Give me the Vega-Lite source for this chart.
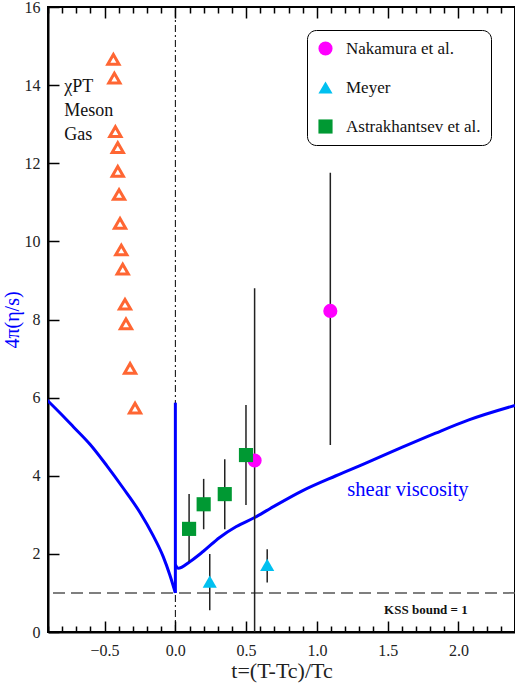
{
  "$schema": "https://vega.github.io/schema/vega-lite/v6.json",
  "width": 467,
  "height": 625,
  "autosize": {"type": "none"},
  "padding": {"left": 48, "top": 7, "right": 0, "bottom": 59},
  "background": "white",
  "config": {
    "view": {"stroke": "black", "strokeWidth": 2},
    "font": "Liberation Serif",
    "text": {"font": "Liberation Serif"},
    "legend": {"labelFont": "Liberation Serif"},
    "axis": {
      "labelFont": "Liberation Serif",
      "titleFont": "Liberation Serif",
      "labelFontSize": 16,
      "labelColor": "#222",
      "domainColor": "black",
      "domainWidth": 2,
      "tickColor": "black",
      "tickWidth": 1.5,
      "grid": false
    }
  },
  "datasets": {
    "curve": [
      {"seg": "left", "t": -0.907, "v": 5.94, "o": 1},
      {"seg": "left", "t": -0.813, "v": 5.6, "o": 2},
      {"seg": "left", "t": -0.72, "v": 5.25, "o": 3},
      {"seg": "left", "t": -0.602, "v": 4.8, "o": 4},
      {"seg": "left", "t": -0.485, "v": 4.26, "o": 5},
      {"seg": "left", "t": -0.368, "v": 3.68, "o": 6},
      {"seg": "left", "t": -0.25, "v": 3.06, "o": 7},
      {"seg": "left", "t": -0.156, "v": 2.46, "o": 8},
      {"seg": "left", "t": -0.086, "v": 1.93, "o": 9},
      {"seg": "left", "t": -0.039, "v": 1.46, "o": 10},
      {"seg": "left", "t": 0.0, "v": 1.0, "o": 11},
      {"seg": "spike", "t": 0.0, "v": 1.0, "o": 12},
      {"seg": "spike", "t": 0.0, "v": 5.87, "o": 13},
      {"seg": "right", "t": 0.0, "v": 1.72, "o": 14},
      {"seg": "right", "t": 0.02, "v": 1.63, "o": 15},
      {"seg": "right", "t": 0.102, "v": 1.8, "o": 16},
      {"seg": "right", "t": 0.196, "v": 2.06, "o": 17},
      {"seg": "right", "t": 0.313, "v": 2.42, "o": 18},
      {"seg": "right", "t": 0.431, "v": 2.7, "o": 19},
      {"seg": "right", "t": 0.56, "v": 2.93, "o": 20},
      {"seg": "right", "t": 0.665, "v": 3.15, "o": 21},
      {"seg": "right", "t": 0.9, "v": 3.62, "o": 22},
      {"seg": "right", "t": 1.135, "v": 4.0, "o": 23},
      {"seg": "right", "t": 1.37, "v": 4.36, "o": 24},
      {"seg": "right", "t": 1.604, "v": 4.73, "o": 25},
      {"seg": "right", "t": 1.839, "v": 5.09, "o": 26},
      {"seg": "right", "t": 2.074, "v": 5.43, "o": 27},
      {"seg": "right", "t": 2.4, "v": 5.8, "o": 28}
    ],
    "chpt": [
      {"t": -0.438, "v": 14.66},
      {"t": -0.431, "v": 14.18},
      {"t": -0.424, "v": 12.81},
      {"t": -0.407, "v": 12.4},
      {"t": -0.407, "v": 11.79},
      {"t": -0.398, "v": 11.2},
      {"t": -0.391, "v": 10.46},
      {"t": -0.382, "v": 9.78},
      {"t": -0.372, "v": 9.29},
      {"t": -0.356, "v": 8.39},
      {"t": -0.349, "v": 7.89},
      {"t": -0.32, "v": 6.75},
      {"t": -0.285, "v": 5.73}
    ],
    "lattice": [
      {"series": "Nakamura et al.", "t": 0.56, "v": 4.39, "lo": 0.0, "hi": 8.8},
      {"series": "Nakamura et al.", "t": 1.095, "v": 8.22, "lo": 4.79, "hi": 11.76},
      {"series": "Meyer", "t": 0.243, "v": 1.29, "lo": 0.56, "hi": 2.0},
      {"series": "Meyer", "t": 0.649, "v": 1.72, "lo": 1.27, "hi": 2.12},
      {"series": "Astrakhantsev et al.", "t": 0.097, "v": 2.64, "lo": 1.8, "hi": 3.53},
      {"series": "Astrakhantsev et al.", "t": 0.2, "v": 3.27, "lo": 2.63, "hi": 3.92},
      {"series": "Astrakhantsev et al.", "t": 0.349, "v": 3.53, "lo": 2.63, "hi": 4.42},
      {"series": "Astrakhantsev et al.", "t": 0.499, "v": 4.53, "lo": 3.25, "hi": 5.81}
    ],
    "labels": [
      {"t": -0.785, "v": 13.95, "txt": "χPT"},
      {"t": -0.785, "v": 13.33, "txt": "Meson"},
      {"t": -0.785, "v": 12.72, "txt": "Gas"}
    ]
  },
  "layer": [
    {
      "data": {"values": [{"v": 1}]},
      "mark": {"type": "rule", "color": "#555", "strokeWidth": 1.5, "strokeDash": [12, 6]},
      "encoding": {
        "y": {"field": "v", "type": "quantitative", "scale": {"domain": [0, 16], "nice": false, "zero": false}}
      }
    },
    {
      "data": {"values": [{"t": 0, "a": 0, "b": 16}]},
      "mark": {"type": "rule", "color": "black", "strokeWidth": 1, "strokeDash": [7, 3, 2, 3]},
      "encoding": {
        "x": {
          "field": "t", "type": "quantitative",
          "scale": {"domain": [-0.9, 2.4], "nice": false, "zero": false},
          "axis": {
            "orient": "top", "title": null, "labels": false, "domain": false,
            "values": [-0.9,-0.8,-0.7,-0.6,-0.5,-0.4,-0.3,-0.2,-0.1,0,0.1,0.2,0.3,0.4,0.5,0.6,0.7,0.8,0.9,1,1.1,1.2,1.3,1.4,1.5,1.6,1.7,1.8,1.9,2,2.1,2.2,2.3],
            "tickSize": {"condition": {"test": "round(datum.value*10) % 5 == 0", "value": -11}, "value": -6}
          }
        },
        "y": {"field": "a", "type": "quantitative"},
        "y2": {"field": "b"}
      }
    },
    {
      "data": {"name": "curve"},
      "mark": {"type": "line", "color": "#0000FF", "strokeWidth": 3, "interpolate": "monotone", "clip": true},
      "encoding": {
        "x": {
          "field": "t", "type": "quantitative",
          "scale": {"domain": [-0.9, 2.4], "nice": false, "zero": false},
          "axis": {
            "orient": "bottom",
            "title": "t=(T-Tc)/Tc", "titleFontSize": 22, "titleFontWeight": "normal", "titleColor": "#222", "titlePadding": -3,
            "values": [-0.9,-0.8,-0.7,-0.6,-0.5,-0.4,-0.3,-0.2,-0.1,0,0.1,0.2,0.3,0.4,0.5,0.6,0.7,0.8,0.9,1,1.1,1.2,1.3,1.4,1.5,1.6,1.7,1.8,1.9,2,2.1,2.2,2.3],
            "format": ".1f",
            "labelExpr": "round(datum.value*10) % 5 == 0 ? datum.label : ''",
            "labelOverlap": false,
            "labelPadding": 21,
            "tickSize": {"condition": {"test": "round(datum.value*10) % 5 == 0", "value": -11}, "value": -6}
          }
        },
        "y": {
          "field": "v", "type": "quantitative",
          "scale": {"domain": [0, 16], "nice": false, "zero": false},
          "axis": {
            "title": "4π(η/s)", "titleColor": "#0000FF", "titleFontSize": 20, "titleFontWeight": "normal", "titlePadding": 2,
            "values": [0,1,2,3,4,5,6,7,8,9,10,11,12,13,14,15,16],
            "labelExpr": "datum.value % 2 == 0 ? datum.label : ''",
            "labelOverlap": false,
            "labelPadding": 19,
            "tickSize": {"condition": {"test": "datum.value % 2 == 0", "value": -11}, "value": -6}
          }
        },
        "detail": {"field": "seg", "type": "nominal"},
        "order": {"field": "o", "type": "quantitative"}
      }
    },
    {
      "data": {"name": "lattice"},
      "mark": {"type": "rule", "color": "#222", "strokeWidth": 1.5},
      "encoding": {
        "x": {"field": "t", "type": "quantitative", "axis": null},
        "y": {"field": "lo", "type": "quantitative"},
        "y2": {"field": "hi"}
      }
    },
    {
      "data": {"name": "chpt"},
      "mark": {"type": "point", "shape": "triangle-up", "filled": false, "stroke": "#FF6633", "strokeWidth": 3, "size": 125, "opacity": 1},
      "encoding": {
        "x": {"field": "t", "type": "quantitative", "axis": null},
        "y": {"field": "v", "type": "quantitative"}
      }
    },
    {
      "data": {"name": "lattice"},
      "mark": {"type": "point", "filled": true, "size": 200, "opacity": 1},
      "encoding": {
        "x": {"field": "t", "type": "quantitative", "axis": null},
        "y": {"field": "v", "type": "quantitative"},
        "color": {
          "field": "series", "type": "nominal",
          "scale": {"domain": ["Nakamura et al.", "Meyer", "Astrakhantsev et al."], "range": ["#FF00FF", "#00C0F0", "#009933"]},
          "legend": {
            "title": null, "orient": "none", "legendX": 259, "legendY": 23,
            "labelFont": "Liberation Serif", "labelFontSize": 17, "labelColor": "#111",
            "symbolSize": 200, "labelOffset": 12, "rowPadding": 21,
            "padding": 10, "strokeColor": "black", "cornerRadius": 9, "fillColor": "white"
          }
        },
        "shape": {
          "field": "series", "type": "nominal",
          "scale": {"domain": ["Nakamura et al.", "Meyer", "Astrakhantsev et al."], "range": ["circle", "triangle-up", "square"]}
        }
      }
    },
    {
      "data": {"name": "labels"},
      "mark": {"type": "text", "align": "left", "baseline": "middle", "font": "Liberation Serif", "fontSize": 18, "color": "#111"},
      "encoding": {
        "x": {"field": "t", "type": "quantitative", "axis": null},
        "y": {"field": "v", "type": "quantitative"},
        "text": {"field": "txt"}
      }
    },
    {
      "data": {"values": [{"t": 1.215, "v": 3.64, "txt": "shear viscosity"}]},
      "mark": {"type": "text", "align": "left", "baseline": "middle", "font": "Liberation Serif", "fontSize": 20.5, "color": "#0000FF"},
      "encoding": {
        "x": {"field": "t", "type": "quantitative", "axis": null},
        "y": {"field": "v", "type": "quantitative"},
        "text": {"field": "txt"}
      }
    },
    {
      "data": {"values": [{"t": 1.475, "v": 0.56, "txt": "KSS bound = 1"}]},
      "mark": {"type": "text", "align": "left", "baseline": "middle", "font": "Liberation Serif", "fontSize": 13, "fontWeight": "bold", "color": "#111"},
      "encoding": {
        "x": {"field": "t", "type": "quantitative", "axis": null},
        "y": {"field": "v", "type": "quantitative"},
        "text": {"field": "txt"}
      }
    }
  ],
  "resolve": {"axis": {"x": "independent"}}
}
